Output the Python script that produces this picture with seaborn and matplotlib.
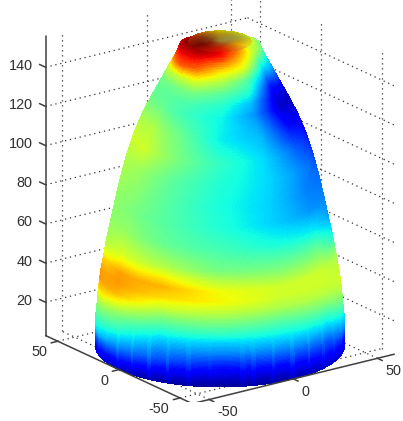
import numpy as np
import matplotlib
matplotlib.use("Agg")
import matplotlib.pyplot as plt
from matplotlib.colors import to_rgb
import seaborn as sns
from mpl_toolkits.mplot3d import Axes3D, proj3d  # noqa

sns.set_theme(style="white")
plt.rcParams['font.family'] = ['Liberation Sans', 'DejaVu Sans']

# -------------------- values -------------------- #
x_ticks = [-50, 0, 50]
y_ticks = [-50, 0, 50]
z_ticks = [20, 40, 60, 80, 100, 120, 140]
xy_lim = 60
z_min, z_max = 3, 156

# wall profile: height and radius of each ring
ring_z = [3, 6, 10, 15, 20, 25, 30, 35, 40, 45, 50, 55, 60, 70, 80, 90, 100, 110, 120, 130, 135, 140, 145, 150, 156, 158]
ring_r = [60, 60, 60, 60, 59.5, 59, 58.6, 58, 57.4, 56.5, 55.6, 54.8, 53.8, 51.7, 49.6, 47.3, 44.7, 41.5, 37.5, 32.5, 29.8, 27.2, 24.6, 21.9, 19.3, 15]

# angle of each colour column seen from the viewer: 0 = front, -90 = left edge, 90 = right edge
col_angle = [-120, -90, -60, -30, 0, 30, 60, 90, 120]

# colour value (0-1 on jet) per ring, one list per angle
col_m90 = [.10, .14, .22, .38, .45, .52, .62, .72, .76, .72, .65, .58, .54, .52, .53, .55, .57, .60, .55, .48, .47, .50, .60, .78, .95, .99]
col_m60 = [.06, .10, .18, .28, .37, .45, .52, .63, .72, .75, .74, .66, .60, .53, .50, .52, .54, .60, .57, .48, .46, .48, .58, .82, .93, .99]
col_m30 = [.03, .07, .13, .21, .27, .34, .42, .50, .60, .68, .72, .65, .56, .47, .45, .45, .46, .50, .48, .42, .44, .50, .62, .80, .93, .98]
col_0 = [.02, .05, .10, .17, .26, .33, .42, .50, .58, .65, .64, .57, .49, .43, .39, .38, .39, .41, .36, .37, .40, .46, .56, .68, .88, .92]
col_p30 = [.03, .06, .11, .19, .27, .34, .41, .48, .56, .60, .60, .54, .48, .38, .33, .33, .34, .34, .31, .27, .31, .40, .46, .62, .72, .80]
col_p60 = [.06, .09, .14, .20, .28, .36, .44, .52, .58, .60, .60, .55, .49, .36, .27, .25, .26, .22, .14, .07, .09, .15, .27, .40, .56, .62]
col_p90 = [.08, .11, .16, .30, .38, .47, .55, .60, .61, .58, .54, .46, .36, .27, .25, .23, .19, .14, .10, .05, .10, .20, .30, .37, .50, .60]

# thin light streaks near the foot of the wall, one value per 5 degrees from -90 to 90
streak_angle = list(range(-90, 95, 5))
streak_vals = [0, .02, 0, .03, 0, .02, 0, .05, 0, .06, 0, .07, 0, .07, 0, .05, 0, .02, 0,
               0, .04, .05, 0, .06, 0, .07, 0, .07, 0, .05, 0, .04, 0, .03, 0, .02, 0]
streak_fade_z = [3, 12, 22, 28]
streak_fade = [.3, .45, .2, 0]

# cap on top of the wall: ring radius and colours, same angles all round
cap_r = [15, 10, 5, 0]
cap_angle = [-180, -120, -60, 0, 60, 120, 180]
cap_colors = [['#c8b800', '#b03000', '#800800', '#e01000', '#e8d818', '#b8d020', '#c8b800'],
              ['#b09010', '#803010', '#700800', '#c82000', '#e0a000', '#a0a030', '#b09010'],
              ['#a08020', '#804010', '#882008', '#a84010', '#a87820', '#989040', '#a08020'],
              ['#988030', '#988030', '#988030', '#988030', '#988030', '#988030', '#988030']]

# -------------------- build the surface -------------------- #
az, el = -126, 19.7
tile = np.array([col_m90, col_m90, col_m60, col_m30, col_0, col_p30, col_p60, col_p90, col_p90]).T
jet = plt.get_cmap('jet')


def shade(values, rows, cols):
    # like MATLAB "shading interp": colours run smoothly between the read nodes
    values = np.array(values, dtype=float)
    r_new = np.linspace(0, values.shape[0] - 1, rows)
    c_new = np.linspace(0, values.shape[1] - 1, cols)
    tmp = np.array([np.interp(r_new, np.arange(values.shape[0]), v) for v in values.T]).T
    return np.array([np.interp(c_new, np.arange(tmp.shape[1]), v) for v in tmp])


rows, cols = 200, 300
vals = shade(tile, rows, cols)
zz = np.interp(np.linspace(0, len(ring_z) - 1, rows), np.arange(len(ring_z)), ring_z)
rr = np.interp(np.linspace(0, len(ring_z) - 1, rows), np.arange(len(ring_z)), ring_r)
deg = np.linspace(col_angle[0], col_angle[-1], cols)
phi = np.radians(deg + az)
R, P = np.meshgrid(rr, phi, indexing='ij')
X, Y = R * np.cos(P), R * np.sin(P)
Z = np.tile(zz[:, None], (1, cols))

# streaks stay thin lines, only the part close to each listed angle is used
streak_idx = np.clip(np.round((deg - streak_angle[0]) / 5).astype(int), 0, len(streak_vals) - 1)
near = np.abs(deg - np.array(streak_angle)[streak_idx]) < 1.0
vals = vals + np.outer(np.interp(zz, streak_fade_z, streak_fade), np.array(streak_vals)[streak_idx] * near)
vals = np.clip(vals, 0, 1)

cap_rgb = np.array([[to_rgb(c) for c in row] for row in cap_colors])
cap_c = np.dstack([shade(cap_rgb[:, :, i], 40, 120) for i in range(3)])
cap_rr = np.interp(np.linspace(0, len(cap_r) - 1, 40), np.arange(len(cap_r)), cap_r)
cap_phi = np.radians(np.linspace(-180, 180, 120) + az)
CR, CP = np.meshgrid(cap_rr, cap_phi, indexing='ij')

# -------------------- plot -------------------- #
fig = plt.figure(figsize=(4.03, 4.21), dpi=100)
ax = fig.add_axes([13 / 403, 10 / 421, 1, 1], projection='3d', proj_type='ortho')
ax.computed_zorder = False
ax.view_init(elev=el, azim=az)
ax.set_axis_off()

grid_style = dict(color='#303030', lw=0.9, ls=(0, (1, 3)), zorder=1)
for z in z_ticks:
    ax.plot([-xy_lim, xy_lim], [xy_lim, xy_lim], [z, z], **grid_style)
    ax.plot([xy_lim, xy_lim], [xy_lim, -xy_lim], [z, z], **grid_style)
for t in x_ticks:
    ax.plot([t, t], [xy_lim, xy_lim], [z_min, z_max], **grid_style)
    ax.plot([t, t], [-xy_lim, xy_lim], [z_min, z_min], **grid_style)
for t in y_ticks:
    ax.plot([xy_lim, xy_lim], [t, t], [z_min, z_max], **grid_style)
    ax.plot([-xy_lim, xy_lim], [t, t], [z_min, z_min], **grid_style)

ax.plot_surface(X, Y, Z, facecolors=jet(vals), rstride=1, cstride=1, shade=False,
                linewidth=0, antialiased=False, zorder=2)
ax.plot_surface(CR * np.cos(CP), CR * np.sin(CP), np.full(CR.shape, ring_z[-1]), facecolors=cap_c,
                rstride=1, cstride=1, shade=False, linewidth=0, antialiased=False, zorder=3)

axis_style = dict(color='#404040', lw=1.1, zorder=4)
ax.plot([-xy_lim, -xy_lim], [xy_lim, xy_lim], [z_min, z_max], **axis_style)
ax.plot([-xy_lim, -xy_lim], [xy_lim, -xy_lim], [z_min, z_min], **axis_style)
ax.plot([-xy_lim, xy_lim], [-xy_lim, -xy_lim], [z_min, z_min], **axis_style)
for z in z_ticks:
    ax.plot([-xy_lim, -xy_lim], [xy_lim, xy_lim + 5], [z, z], **axis_style)
for t in x_ticks:
    ax.plot([t, t], [-xy_lim, -xy_lim - 4], [z_min, z_min], **axis_style)
for t in y_ticks:
    ax.plot([-xy_lim, -xy_lim - 4], [t, t], [z_min, z_min], **axis_style)

ax.set_xlim(-xy_lim, xy_lim)
ax.set_ylim(-xy_lim, xy_lim)
ax.set_zlim(z_min, z_max)
ax.set_box_aspect((120, 120, z_max - z_min), zoom=1.145)


# tick labels go on as 2D text at the projected place of each 3D point
def put_label(px, py, pz, text, ha):
    u, v, _ = proj3d.proj_transform(px, py, pz, ax.get_proj())
    ax.text2D(u, v, text, ha=ha, va='center', color='#303030', fontsize=10.4, transform=ax.transData, zorder=5)


for z in z_ticks:
    put_label(-xy_lim, xy_lim + 10.7, z - 2.3, str(z), 'right')
for t in x_ticks:
    put_label(t, -xy_lim - 6.5, z_min - 4.7, str(t), 'left')
for t in y_ticks:
    put_label(-xy_lim - 6.5, t, z_min - 4.2, str(t), 'right')

fig.savefig('out.png', dpi=100)
